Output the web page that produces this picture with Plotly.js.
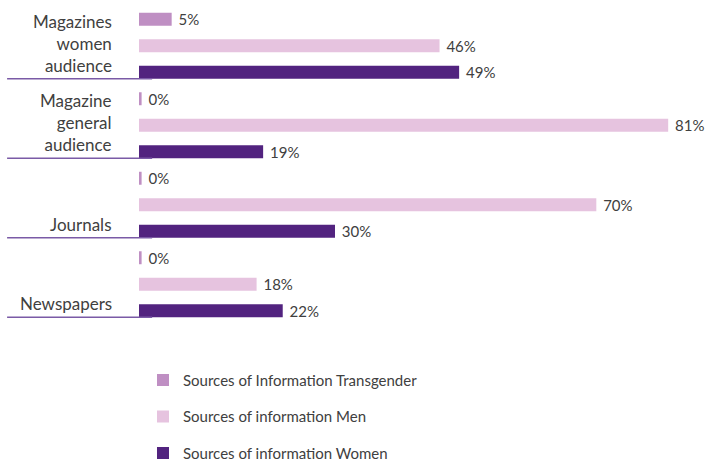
<!DOCTYPE html>
<html>
<head>
<meta charset="utf-8">
<script src="https://cdn.plot.ly/plotly-3.0.1.min.js"></script>
<style>
  html, body { margin: 0; padding: 0; background: #fff; }
  #chart { width: 710px; height: 461px; }
</style>
</head>
<body>
<div id="chart"></div>
<script>
var categories = ['Magazines<br>women<br>audience', 'Magazine<br>general<br>audience', 'Journals', 'Newspapers'];
var transgender = [5, 0.4, 0.4, 0.4];
var men = [46, 81, 70, 18];
var women = [49, 19, 30, 22];
var seriesNames = ['Sources of Information Transgender', 'Sources of information Men', 'Sources of information Women'];
var colors = ['#bf8fc3', '#e6c3df', '#52237f'];

var font = 'Lato, "Open Sans", sans-serif';
var ink = '#404040';

function makeTrace(vals, i) {
    return {
        type: 'bar',
        orientation: 'h',
        y: categories,
        x: vals,
        name: seriesNames[i],
        legendgroup: 'g' + i,
        marker: {color: colors[i]},
        texttemplate: '&nbsp;%{x:.0f}%',
        textposition: 'outside',
        constraintext: 'none',
        cliponaxis: false,
        outsidetextfont: {family: font, size: 15, color: ink},
        hoverinfo: 'x+name'
    };
}

var chartData = [makeTrace(transgender, 0), makeTrace(men, 1), makeTrace(women, 2)];

// label + separator line for every category, sitting at the bottom of the group
var shapes = [];
var annotations = [];
categories.forEach(function(c, i) {
    shapes.push({
        type: 'line', xref: 'paper', yref: 'y',
        x0: -0.231, x1: 0.023, y0: i + 0.415, y1: i + 0.415,
        line: {color: '#7a5aa6', width: 1.3}
    });
    annotations.push({
        xref: 'paper', yref: 'y',
        x: -0.043, y: i + 0.415,
        xanchor: 'right', yanchor: 'bottom', align: 'right',
        yshift: 1,
        text: c, showarrow: false,
        font: {family: font, size: 17, color: ink}
    });
});

var layout = {
    width: 710,
    height: 461,
    margin: {l: 139, r: 0, t: 6, b: 137, autoexpand: false},
    paper_bgcolor: '#fff',
    plot_bgcolor: '#fff',
    barmode: 'group',
    bargap: 0,
    bargroupgap: 0.51,
    font: {family: font, color: ink},
    xaxis: {visible: false, range: [0, 87.4], fixedrange: true},
    yaxis: {
        range: [categories.length - 0.5, -0.5],
        showticklabels: false, showgrid: false, zeroline: false,
        showline: false, ticks: '', fixedrange: true
    },
    showlegend: true,
    legend: {
        x: 0.007, xanchor: 'left',
        y: -0.125, yanchor: 'top',
        orientation: 'v',
        traceorder: 'grouped',
        tracegroupgap: 14,
        font: {family: font, size: 15, color: ink},
        bgcolor: 'rgba(0,0,0,0)'
    },
    shapes: shapes,
    annotations: annotations
};

Plotly.newPlot('chart', chartData, layout, {displayModeBar: false, staticPlot: true});
</script>
</body>
</html>
